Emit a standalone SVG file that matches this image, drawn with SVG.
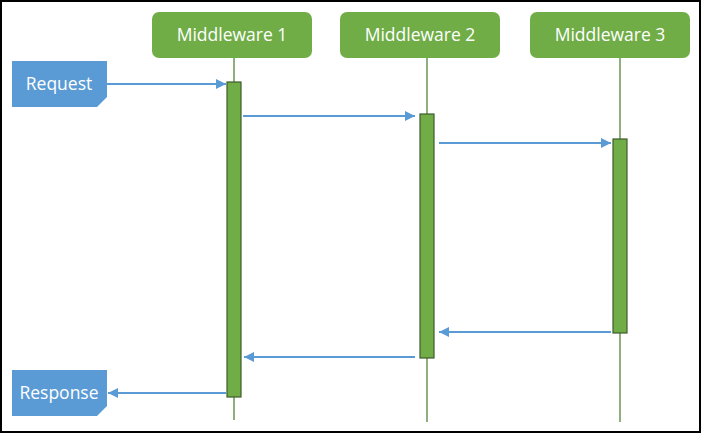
<svg xmlns="http://www.w3.org/2000/svg" width="702" height="435" viewBox="0 0 702 435">
<style>
.box{fill:#70AD47;}
.lbl{font-family:"Open Sans","Noto Sans",sans-serif;font-size:17.5px;fill:#ffffff;text-anchor:middle;}
.life{stroke:#8FB07E;stroke-width:2;fill:none;}
.act{fill:#70AD47;stroke:#3E5B2B;stroke-width:1.2;}
.tag{fill:#5B9BD5;}
.msg{stroke:#5B9BD5;stroke-width:2;fill:none;marker-end:url(#ah);}
</style>
<defs>
<marker id="ah" viewBox="0 0 10 10" refX="10" refY="5" markerWidth="12" markerHeight="10" markerUnits="userSpaceOnUse" orient="auto">
<path d="M0,0 L10,5 L0,10 z" fill="#5B9BD5"/>
</marker>
</defs>
<rect x="1" y="1" width="699" height="431" fill="#ffffff" stroke="#000000" stroke-width="2"/>
<g id="lifelines">
<line class="life" x1="234" y1="58" x2="234" y2="420"/>
<line class="life" x1="427" y1="58" x2="427" y2="422"/>
<line class="life" x1="620" y1="58" x2="620" y2="422"/>
</g>
<g id="middleware1">
<rect class="box" x="152" y="12" width="160" height="46" rx="7"/>
<text class="lbl" x="232" y="41">Middleware 1</text>
<rect class="act" x="227" y="82" width="14" height="315"/>
</g>
<g id="middleware2">
<rect class="box" x="340" y="12" width="160" height="46" rx="7"/>
<text class="lbl" x="420" y="41">Middleware 2</text>
<rect class="act" x="420" y="114" width="14" height="244"/>
</g>
<g id="middleware3">
<rect class="box" x="530" y="12" width="160" height="46" rx="7"/>
<text class="lbl" x="610" y="41">Middleware 3</text>
<rect class="act" x="613" y="139" width="14" height="194"/>
</g>
<g id="request">
<path class="tag" d="M12,61 H107 V97 L97,107 H12 Z"/>
<text class="lbl" x="59" y="90">Request</text>
</g>
<g id="response">
<path class="tag" d="M12,370 H107 V406 L97,416 H12 Z"/>
<text class="lbl" x="59" y="399">Response</text>
</g>
<g id="connectors">
<line class="msg" x1="107" y1="84" x2="226" y2="84"/>
<line class="msg" x1="243" y1="116" x2="415" y2="116"/>
<line class="msg" x1="439" y1="143" x2="611" y2="143"/>
<line class="msg" x1="611" y1="332" x2="439" y2="332"/>
<line class="msg" x1="415" y1="357" x2="244" y2="357"/>
<line class="msg" x1="226" y1="393" x2="108" y2="393"/>
</g>
</svg>
